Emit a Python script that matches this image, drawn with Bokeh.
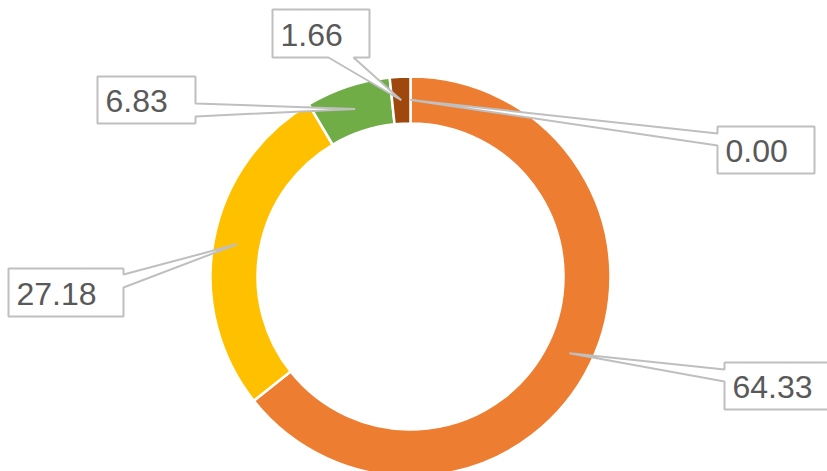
import math
from bokeh.plotting import figure
from bokeh.models import Range1d, ColumnDataSource
from bokeh.core.properties import value
from bokeh.embed import file_html
from bokeh.resources import INLINE

# ---- data ----
values = [64.33, 27.18, 6.83, 1.66, 0.00]
labels = ["64.33", "27.18", "6.83", "1.66", "0.00"]
colors = ["#ED7D31", "#FFC000", "#70AD47", "#9E480E", "#4472C4"]

# ---- layout (page pixels) ----
W, H = 827, 471
OFF = 0
CX, CY = 410, 276
R_OUT, R_IN = 200, 153

# callout boxes: left, top, right, bottom, pointer side, base1, base2
boxes = [
    (724, 362, 839, 409, "left", 369, 381),
    (8, 268, 123, 316, "right", 274, 287),
    (97, 76, 195, 123, "right", 103, 116),
    (272, 9, 369, 57, "bottom", 328, 353),
    (717, 126, 814, 173, "left", 133, 145),
]


def dx(px):
    return px - CX


def dy(py):
    return CY - py


p = figure(width=W, height=H,
           x_range=Range1d(OFF - CX, OFF + W - CX),
           y_range=Range1d(CY - (OFF + H), CY - OFF),
           output_backend="svg", toolbar_location=None,
           x_axis_location=None, y_axis_location=None,
           min_border=0, outline_line_color=None,
           background_fill_color="white", border_fill_color="white")
p.grid.visible = False

total = sum(values)
starts, ends, mids = [], [], []
cum = 0.0
for v in values:
    s = math.pi / 2 - 2 * math.pi * cum / total
    cum += v
    e = math.pi / 2 - 2 * math.pi * cum / total
    starts.append(s)
    ends.append(e)
    mids.append((s + e) / 2)

keep = [i for i, v in enumerate(values) if v > 0]
src = ColumnDataSource(dict(
    start=[starts[i] for i in keep],
    end=[ends[i] for i in keep],
    color=[colors[i] for i in keep],
))
p.annular_wedge(x=0, y=0, inner_radius=R_IN, outer_radius=R_OUT,
                start_angle="start", end_angle="end", direction="clock",
                fill_color="color", line_color="white", line_width=2.5,
                source=src)

# callouts
r_mid = (R_IN + R_OUT) / 2
xs, ys, tx, ty = [], [], [], []
for i, (l, t, r, b, side, a1, a2) in enumerate(boxes):
    tipx = r_mid * math.cos(mids[i])
    tipy = r_mid * math.sin(mids[i])
    if side == "left":
        pts = [(dx(l), dy(t)), (dx(r), dy(t)), (dx(r), dy(b)), (dx(l), dy(b)),
               (dx(l), dy(a2)), (tipx, tipy), (dx(l), dy(a1))]
    elif side == "right":
        pts = [(dx(l), dy(t)), (dx(r), dy(t)), (dx(r), dy(a1)), (tipx, tipy),
               (dx(r), dy(a2)), (dx(r), dy(b)), (dx(l), dy(b))]
    else:
        pts = [(dx(l), dy(t)), (dx(r), dy(t)), (dx(r), dy(b)), (dx(a2), dy(b)),
               (tipx, tipy), (dx(a1), dy(b)), (dx(l), dy(b))]
    xs.append([q[0] for q in pts])
    ys.append([q[1] for q in pts])
    tx.append(dx(l + 8))
    ty.append(dy((t + b) / 2 + 1))

p.patches(xs, ys, fill_color="white", line_color="#BFBFBF", line_width=2)
p.text(x=tx, y=ty, text=labels, text_font=value("Liberation Sans"),
       text_font_size="32px", text_color="#595959",
       text_baseline="middle", text_align="left")

open("out.html", "w").write(file_html(p, INLINE))
